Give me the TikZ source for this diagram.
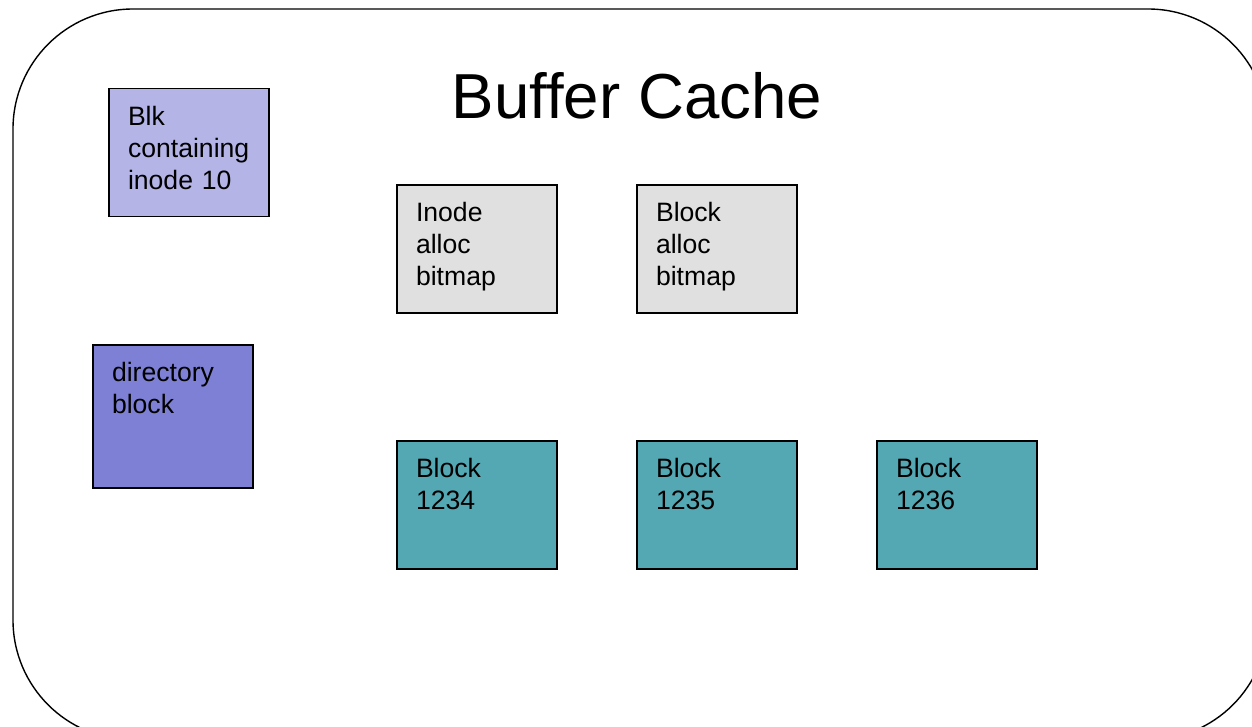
\documentclass[tikz,border=0pt]{standalone}
\usepackage{fontspec}
\setmainfont{Liberation Sans}
\usetikzlibrary{positioning}

\definecolor{inodeblk}{RGB}{180,180,230}
\definecolor{dirblk}{RGB}{126,128,214}
\definecolor{bitmapgray}{RGB}{224,224,224}
\definecolor{datablk}{RGB}{83,168,180}

\tikzstyle{cachebox} =
[
	rectangle
	, text width=61pt
	, align=left
	, inner xsep=9.5pt
	, inner ysep=0pt
	, text height=18.3pt
	, text depth=45.7pt
	, draw=black
	, line width=0.7pt
	, font=\fontsize{13.3}{16}\selectfont
]
\tikzstyle{inodebox} = [cachebox, fill=inodeblk]
\tikzstyle{dirbox} = [cachebox, fill=dirblk, text depth=53.2pt]
\tikzstyle{bitmapbox} = [cachebox, fill=bitmapgray]
\tikzstyle{databox} = [cachebox, fill=datablk]

\begin{document}
\begin{tikzpicture}[x=0.5pt, y=-0.5pt, node distance=120pt]

\useasboundingbox (0,0) rectangle (1252,727);
\draw[line width=0.7pt, rounded corners=60pt] (13,9) rectangle (1268,740);

\node(title)[anchor=base, font=\fontsize{31.8}{38}\selectfont] at (637,119) {Buffer Cache};

\node(inode10)[inodebox] at (189,152.5) {Blk\\containing\\inode 10};
\node(dir)[dirbox] at (173,416.5) {directory\\block};

\node(ibitmap)[bitmapbox] at (477,249) {Inode\\alloc\\bitmap};
\node(bbitmap)[bitmapbox, right of=ibitmap] {Block\\alloc\\bitmap};

\node(blk1234)[databox, below of=ibitmap, yshift=-8pt] {Block\\1234};
\node(blk1235)[databox, right of=blk1234] {Block\\1235};
\node(blk1236)[databox, right of=blk1235] {Block\\1236};

\end{tikzpicture}
\end{document}
